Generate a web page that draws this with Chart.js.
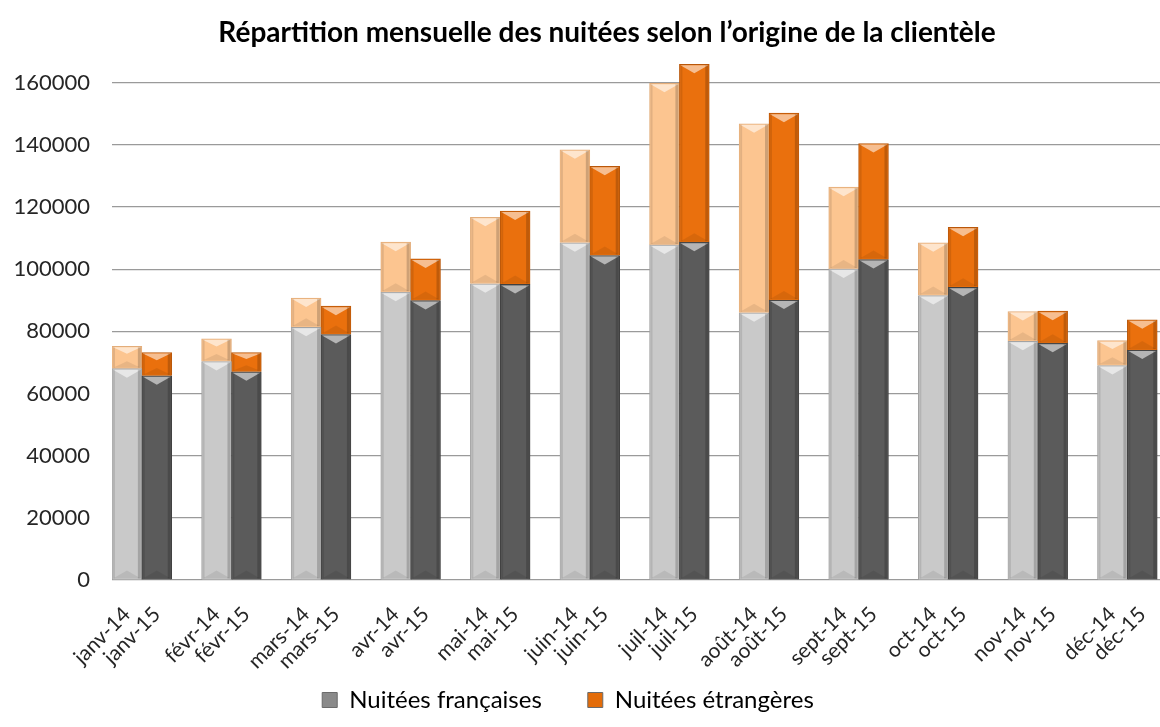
<!DOCTYPE html>
<html lang="fr">
<head>
<meta charset="utf-8">
<title>Nuitées</title>
<script src="https://cdn.jsdelivr.net/npm/chart.js@4.4.1/dist/chart.umd.min.js"></script>
<style>
    html, body { margin: 0; padding: 0; background: #fff; overflow: hidden; }
    #cadre { width: 1204px; height: 727px; }
</style>
</head>
<body>
<div id="cadre"><canvas id="graphNuitees"></canvas></div>
<script>
// Données
const mois = ['janv', 'févr', 'mars', 'avr', 'mai', 'juin', 'juil', 'août', 'sept', 'oct', 'nov', 'déc'];
const annees = ['14', '15'];
const francaises2014 = [68000, 70300, 81300, 92600, 95300, 108500, 107800, 86000, 100100, 91500, 76800, 69000];
const francaises2015 = [65700, 67000, 79000, 89900, 95100, 104400, 108700, 90100, 103100, 94200, 76200, 74000];
const etrangeres2014 = [7200, 7300, 9400, 16100, 21400, 29900, 52000, 60800, 26300, 17000, 9600, 8000];
const etrangeres2015 = [7500, 6200, 9100, 13400, 23600, 28700, 57200, 60100, 37300, 19300, 10300, 9700];
const ticksY = [0, 20000, 40000, 60000, 80000, 100000, 120000, 140000, 160000];

// couleurs : clair = 2014, foncé = 2015
const grisClair = '#c9c9c9', grisFonce = '#5b5b5b';
const orangeClair = '#fcc590', orangeFonce = '#ea700d';

// 3 colonnes par mois : 2014, 2015, vide
var etiquettes = [];
var valFr = [], valEt = [], coulFr = [], coulEt = [], bordFr = [], bordEt = [];
for (var i = 0; i < mois.length; i++) {
    etiquettes.push(mois[i] + '-' + annees[0], mois[i] + '-' + annees[1], '');
    valFr.push(francaises2014[i], francaises2015[i], null);
    valEt.push(etrangeres2014[i], etrangeres2015[i], null);
    coulFr.push(grisClair, grisFonce, grisClair);
    coulEt.push(orangeClair, orangeFonce, orangeClair);
    bordFr.push('#a3a3a3', '#404040', '#a3a3a3');
    bordEt.push('#e3ad7a', '#b9570a', '#e3ad7a');
}

// effet biseauté sur chaque barre (positions prises sur les éléments de Chart.js)
const biseau = {
    id: 'biseau',
    afterDatasetsDraw: function (chart) {
        const c = chart.ctx;
        chart.data.datasets.forEach(function (ds, d) {
            chart.getDatasetMeta(d).data.forEach(function (bar, k) {
                if (ds.data[k] == null) return;
                const g = bar.x - bar.width / 2, dr = bar.x + bar.width / 2;
                const haut = Math.min(bar.y, bar.base), bas = Math.max(bar.y, bar.base);
                const b = Math.min(9, (bas - haut) / 3);
                c.save();
                // reflet en haut
                c.fillStyle = 'rgba(255,255,255,0.55)';
                c.beginPath();
                c.moveTo(g + 1, haut + 1);
                c.lineTo(dr - 1, haut + 1);
                c.lineTo(bar.x, haut + b);
                c.closePath();
                c.fill();
                // ombre en bas
                c.fillStyle = 'rgba(0,0,0,0.08)';
                c.beginPath();
                c.moveTo(g + 1, bas - 1);
                c.lineTo(dr - 1, bas - 1);
                c.lineTo(bar.x, bas - b);
                c.closePath();
                c.fill();
                // bords latéraux
                c.fillStyle = 'rgba(0,0,0,0.10)';
                c.fillRect(g + 1, haut + 1, 2, bas - haut - 2);
                c.fillStyle = 'rgba(0,0,0,0.18)';
                c.fillRect(dr - 4, haut + 1, 3, bas - haut - 2);
                c.restore();
            });
        });
    }
};

// la légende est décalée (vers la gauche, et remontée) comme sur l'original
const decaleLegende = {
    id: 'decaleLegende',
    afterLayout: function (chart) {
        chart.legend.left -= 39;
        chart.legend.right -= 39;
        chart.legend.top -= 46;
    }
};

const data = {
    labels: etiquettes,
    datasets: [
        {
            label: 'Nuitées françaises',
            data: valFr,
            backgroundColor: coulFr,
            borderColor: bordFr,
            borderWidth: 1,
            legendColor: '#8a8a8a'
        },
        {
            label: 'Nuitées étrangères',
            data: valEt,
            backgroundColor: coulEt,
            borderColor: bordEt,
            borderWidth: 1,
            legendColor: '#e36c09'
        }
    ]
};

const config = {
    type: 'bar',
    data: data,
    plugins: [biseau, decaleLegende],
    options: {
        responsive: true,
        maintainAspectRatio: false,
        animation: false,
        layout: { padding: { left: 12, right: 2, bottom: 0 } },
        datasets: { bar: { categoryPercentage: 1, barPercentage: 1 } },
        scales: {
            x: {
                stacked: true,
                grid: { display: false },
                border: { display: false },
                ticks: {
                    autoSkip: false,
                    minRotation: 45,
                    maxRotation: 45,
                    padding: 14,
                    color: '#262626',
                    font: { family: 'Lato', size: 21 }
                }
            },
            y: {
                stacked: true,
                min: 0,
                max: 170000,
                grid: { color: '#9a9a9a', lineWidth: 1.2, drawTicks: false },
                border: { display: false },
                afterBuildTicks: function (axe) {
                    axe.ticks = ticksY.map(function (v) { return { value: v }; });
                },
                afterFit: function (axe) { axe.width = 100; },
                ticks: {
                    padding: 22,
                    color: '#262626',
                    font: { family: 'Lato', size: 22 },
                    callback: function (v) { return String(v); }
                }
            }
        },
        plugins: {
            title: {
                display: true,
                text: 'Répartition mensuelle des nuitées selon l’origine de la clientèle',
                color: '#000',
                font: { family: 'Lato', size: 28, weight: 'bold' },
                padding: { top: 16, bottom: 2 }
            },
            legend: {
                position: 'bottom',
                maxHeight: 39,
                labels: {
                    color: '#000',
                    boxWidth: 15,
                    boxHeight: 15,
                    padding: 46,
                    font: { family: 'Lato', size: 24 },
                    generateLabels: function (chart) {
                        return chart.data.datasets.map(function (ds, idx) {
                            return {
                                text: ds.label,
                                fillStyle: ds.legendColor,
                                strokeStyle: '#6b6b6b',
                                lineWidth: 1,
                                hidden: false,
                                datasetIndex: idx
                            };
                        });
                    }
                }
            },
            tooltip: { enabled: false }
        }
    }
};

const ctx = document.getElementById('graphNuitees').getContext('2d');
new Chart(ctx, config);
</script>
</body>
</html>
